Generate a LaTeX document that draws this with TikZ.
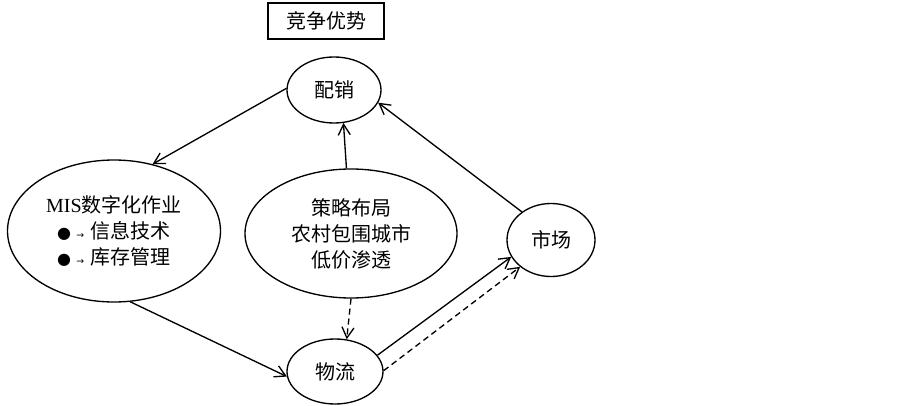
\documentclass[tikz,border=0pt]{standalone}
\usepackage{fontspec}
\setmainfont{Noto Sans CJK SC}
\newfontfamily\latinfont{Liberation Serif}
\newfontfamily\symfont{DejaVu Sans}
\usetikzlibrary{shapes.geometric, arrows.meta, positioning}
\tikzset{
  oval/.style={ellipse, draw=black, line width=1pt, inner sep=0pt,
               align=center, font=\fontsize{15}{19.5}\selectfont},
  titlebox/.style={rectangle, draw=black, line width=1pt, inner sep=0pt,
                   minimum width=87pt, minimum height=27pt,
                   align=center, font=\fontsize{15}{19.5}\selectfont},
  link/.style={-{Straight Barb[length=8pt,width=9pt]}, line width=1pt, draw=black},
  dashlink/.style={link, dash pattern=on 4.5pt off 3pt},
}
\newcommand{\bulletarrow}{{\symfont\fontsize{12}{12}\selectfont ●}\hspace{4pt}%
  {\symfont\fontsize{7}{7}\selectfont →}\hspace{5pt}}

\begin{document}
\begin{tikzpicture}[x=0.75pt, y=-0.75pt]
  \useasboundingbox (0,0) rectangle (903,406);

  % --- top: title and distribution ---
  \node[titlebox] (compete) at (326,21) {竞争优势};
  \node[oval, minimum width=70.5pt, minimum height=49.5pt] (distrib) at (334,90) {配销};

  % --- middle row ---
  \node[oval, minimum width=159.75pt, minimum height=106.5pt] (mis) at (114,231)
       {{\latinfont MIS}数字化作业\\\bulletarrow 信息技术\\\bulletarrow 库存管理};
  \node[oval, minimum width=159pt, minimum height=96.75pt] (strategy) at (351,233.5)
       {策略布局\\农村包围城市\\低价渗透};
  \node[oval, minimum width=66pt, minimum height=54.75pt] (market) at (551,240) {市场};

  % --- bottom: logistics ---
  \node[oval, minimum width=72pt, minimum height=48.75pt] (logistics) at (335,371.5) {物流};

  % Links
  \draw[link]     (distrib.178)  -- (mis.60);
  \draw[link]     (mis.283)      -- (logistics.186);
  \draw[link]     (strategy.94)  -- (distrib.286);
  \draw[dashlink] (strategy.270) -- (logistics.70);
  \draw[link]     (market.136)   -- (distrib.344);
  \draw[link]     (logistics.21) -- (market.203);
  \draw[dashlink] (logistics.1)  -- (market.221);

\end{tikzpicture}
\end{document}
